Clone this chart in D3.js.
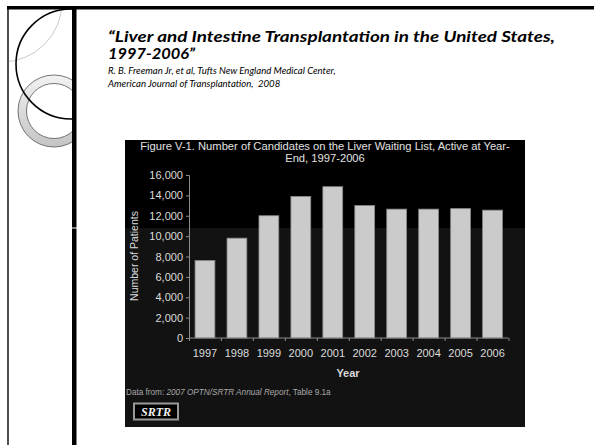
<!DOCTYPE html>
<html><head><meta charset="utf-8">
<script src="https://cdn.jsdelivr.net/npm/d3@7"></script>
<style>html,body{margin:0;padding:0;background:#fff;}svg{display:block;}text{white-space:pre;}</style>
</head><body>
<svg id="c" width="594" height="445"></svg>
<script>
const years = ["1997","1998","1999","2000","2001","2002","2003","2004","2005","2006"];
const candidates = [7600, 9800, 12000, 13900, 14850, 13000, 12650, 12650, 12700, 12550];
const yTicks = [0, 2000, 4000, 6000, 8000, 10000, 12000, 14000, 16000];
const slideTitle = ["\u201CLiver and Intestine Transplantation in the United States,", "1997-2006\u201D"];
const slideSub = ["R. B. Freeman Jr, et al, Tufts New England Medical Center,", "American Journal of Transplantation,  2008"];
const chartTitle = ["Figure V-1. Number of Candidates on the Liver Waiting List, Active at Year-", "End, 1997-2006"];

const svg = d3.select("#c");
const defs = svg.append("defs");
defs.append("clipPath").attr("id","lp").append("rect").attr("x",8).attr("y",8).attr("width",64).attr("height",437);
const g1 = defs.append("linearGradient").attr("id","rg").attr("x1",0).attr("y1",0).attr("x2",0).attr("y2",1);
g1.append("stop").attr("offset","0%").attr("stop-color","#f2f2f2");
g1.append("stop").attr("offset","100%").attr("stop-color","#c4c4c4");

// left panel decorations
const lp = svg.append("g").attr("clip-path","url(#lp)");
lp.append("circle").attr("cx",2).attr("cy",2).attr("r",60).attr("fill","none").attr("stroke","#bbb").attr("stroke-width",0.8);
const cx=54, cy=111, ro=36, ri=27.5;
lp.append("path")
  .attr("d",`M${cx-ro},${cy}a${ro},${ro} 0 1,0 ${2*ro},0a${ro},${ro} 0 1,0 ${-2*ro},0Z M${cx-ri},${cy}a${ri},${ri} 0 1,0 ${2*ri},0a${ri},${ri} 0 1,0 ${-2*ri},0Z`)
  .attr("fill","url(#rg)").attr("fill-rule","evenodd").attr("stroke","#555").attr("stroke-width",0.8);
lp.append("circle").attr("cx",71).attr("cy",64).attr("r",55).attr("fill","none").attr("stroke","#000").attr("stroke-width",1.6);

// frame lines
svg.append("line").attr("x1",8).attr("x2",8).attr("y1",7).attr("y2",445).attr("stroke","#222").attr("stroke-width",1.6);
svg.append("rect").attr("x",7).attr("y",6).attr("width",587).attr("height",3.5).attr("fill","#000");
svg.append("rect").attr("x",72).attr("y",6).attr("width",4.5).attr("height",439).attr("fill","#000");
svg.append("line").attr("x1",72).attr("x2",78).attr("y1",228).attr("y2",228).attr("stroke","#fff").attr("stroke-width",1);

// slide title
const tf = "'Lato','Open Sans',sans-serif";
svg.append("text").attr("x",108).attr("y",41.5).attr("font-family",tf).attr("font-weight","bold").attr("font-style","italic")
  .attr("font-size",14.5).attr("textLength",447).attr("lengthAdjust","spacingAndGlyphs").attr("fill","#000").text(slideTitle[0]);
svg.append("text").attr("x",108).attr("y",59).attr("font-family",tf).attr("font-weight","bold").attr("font-style","italic")
  .attr("font-size",14.5).attr("textLength",87).attr("lengthAdjust","spacingAndGlyphs").attr("fill","#000").text(slideTitle[1]);
svg.selectAll("text.sub").data(slideSub).enter().append("text").attr("class","sub")
  .attr("x",108).attr("y",(d,i)=>74+i*13).attr("font-family",tf).attr("font-style","italic")
  .attr("font-size",9.6).attr("fill","#000").text(d=>d);

// chart image
const L=125, R=525, T=140, B=427, split=228;
svg.append("rect").attr("x",L).attr("y",T).attr("width",R-L).attr("height",split-T).attr("fill","#000");
svg.append("rect").attr("x",L).attr("y",split).attr("width",R-L).attr("height",B-split).attr("fill","#121212");

const af = "'Liberation Sans',Arial,sans-serif";
svg.selectAll("text.ct").data(chartTitle).enter().append("text").attr("class","ct")
  .attr("x",(L+R)/2).attr("y",(d,i)=>150+i*12).attr("text-anchor","middle")
  .attr("font-family",af).attr("font-size",11.2).attr("fill","#e0e0e0").text(d=>d);

const x = d3.scaleBand().domain(years).range([189,508.5]).paddingInner(0.38).paddingOuter(0.19);
const y = d3.scaleLinear().domain([0,16000]).range([338,175]);

svg.selectAll("rect.bar").data(candidates).enter().append("rect").attr("class","bar")
  .attr("x",(d,i)=>x(years[i])).attr("width",x.bandwidth())
  .attr("y",d=>y(d)).attr("height",d=>y(0)-y(d))
  .attr("fill","#cbcbcb").attr("stroke","#8a8a8a").attr("stroke-width",0.8);

const yAx = svg.append("g").attr("transform","translate(189,0)")
  .call(d3.axisLeft(y).tickValues(yTicks).tickFormat(d3.format(",")).tickSize(3).tickPadding(3));
yAx.selectAll("path,line").attr("stroke","#8c8c8c");
yAx.selectAll("text").attr("font-family",af).attr("font-size",11).attr("fill","#dcdcdc");

const xb = d3.scaleLinear().domain([0,10]).range([189,508.5]);
const xAx = svg.append("g").attr("transform","translate(0,338)")
  .call(d3.axisBottom(xb).ticks(10).tickSize(3).tickFormat(""));
xAx.selectAll("path,line").attr("stroke","#8c8c8c");
xAx.select("path").attr("d","M189,0H508.5");
svg.selectAll("text.yr").data(years).enter().append("text").attr("class","yr")
  .attr("x",d=>x(d)+x.bandwidth()/2).attr("y",357).attr("text-anchor","middle")
  .attr("font-family",af).attr("font-size",11).attr("fill","#dcdcdc").text(d=>d);

svg.append("text").attr("x",348).attr("y",377).attr("text-anchor","middle").attr("font-family",af)
  .attr("font-weight","bold").attr("font-size",11).attr("fill","#dcdcdc").text("Year");
svg.append("text").attr("transform","translate(138,256) rotate(-90)").attr("text-anchor","middle")
  .attr("font-family",af).attr("font-size",10.5).attr("fill","#dcdcdc").text("Number of Patients");

const src = svg.append("text").attr("x",126).attr("y",395).attr("font-family",af).attr("font-size",8.2).attr("fill","#a8a8a8");
src.append("tspan").text("Data from: ");
src.append("tspan").attr("font-style","italic").text("2007 OPTN/SRTR Annual Report");
src.append("tspan").text(", Table 9.1a");

svg.append("rect").attr("x",134).attr("y",403.5).attr("width",44).attr("height",16).attr("fill","#000").attr("stroke","#9a9a9a").attr("stroke-width",2);
svg.append("text").attr("x",156).attr("y",416).attr("text-anchor","middle").attr("font-family","'Liberation Serif','Times New Roman',serif")
  .attr("font-weight","bold").attr("font-style","italic").attr("font-size",12).attr("fill","#f0f0f0").text("SRTR");
</script>
</body></html>
